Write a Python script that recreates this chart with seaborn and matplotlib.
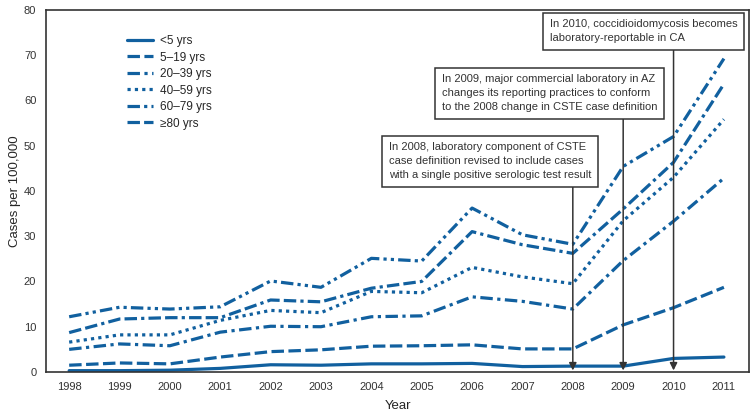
import pandas as pd
import matplotlib.pyplot as plt
import seaborn as sns

# Cases per 100,000 by age group, 1998-2011
years = list(range(1998, 2012))
age_groups = ["<5 yrs", "5–19 yrs", "20–39 yrs", "40–59 yrs", "60–79 yrs", "≥80 yrs"]

lt5 = [0.3, 0.3, 0.4, 0.8, 1.6, 1.5, 1.8, 1.8, 1.9, 1.2, 1.3, 1.3, 3.0, 3.3]
age5_19 = [1.5, 2.0, 1.8, 3.3, 4.5, 4.9, 5.7, 5.8, 6.0, 5.1, 5.1, 10.4, 14.2, 18.7]
age20_39 = [5.0, 6.2, 5.8, 8.8, 10.1, 10.0, 12.2, 12.4, 16.6, 15.6, 13.9, 24.6, 33.3, 42.8]
age40_59 = [6.6, 8.2, 8.2, 11.4, 13.6, 13.1, 17.8, 17.5, 23.1, 21.0, 19.5, 33.4, 43.0, 55.8]
age60_79 = [12.2, 14.3, 13.9, 14.4, 20.1, 18.7, 25.1, 24.5, 36.2, 30.3, 28.2, 45.4, 52.0, 69.2]
age80 = [8.7, 11.7, 12.0, 12.0, 15.9, 15.5, 18.5, 20.0, 31.0, 28.1, 26.2, 36.0, 46.3, 63.6]

series = [lt5, age5_19, age20_39, age40_59, age60_79, age80]

notes = [
    (2008, "In 2008, laboratory component of CSTE\ncase definition revised to include cases\nwith a single positive serologic test result"),
    (2009, "In 2009, major commercial laboratory in AZ\nchanges its reporting practices to conform\nto the 2008 change in CSTE case definition"),
    (2010, "In 2010, coccidioidomycosis becomes\nlaboratory-reportable in CA"),
]

rows = []
for grp, vals in zip(age_groups, series):
    for yr, v in zip(years, vals):
        rows.append({"Year": yr, "Age": grp, "Rate": v})
df = pd.DataFrame(rows)

sns.set_style("white")
plt.rcParams["font.family"] = ["Liberation Sans Narrow", "Liberation Sans", "DejaVu Sans"]

blue = "#11609f"
dark = "#333333"

# dash patterns in units of line width
dash_map = {
    "<5 yrs": "",
    "5–19 yrs": (3.9, 1.4),
    "20–39 yrs": (3.9, 1.4, 1.0, 1.4),
    "40–59 yrs": (1.0, 1.3),
    "60–79 yrs": (3.9, 1.3, 1.0, 1.3, 1.0, 1.3),
    "≥80 yrs": (3.9, 1.3, 3.9, 1.3, 1.0, 1.3),
}

fig = plt.figure(figsize=(7.54, 4.15), dpi=100)
ax = fig.add_axes([0.061, 0.1036, 0.9325, 0.873])

sns.lineplot(
    data=df, x="Year", y="Rate", hue="Age", style="Age",
    hue_order=age_groups, style_order=age_groups,
    palette=[blue] * 6, dashes=dash_map, linewidth=2.3, ax=ax, zorder=2,
)

ax.set_xlim(1997.54, 2011.5)
ax.set_ylim(0, 80)
ax.set_xticks(years)
ax.set_yticks(range(0, 81, 10))
ax.set_xlabel("Year", fontsize=9.5, labelpad=6)
ax.set_ylabel("Cases per 100,000", fontsize=9.5, family=["Liberation Sans", "DejaVu Sans"], labelpad=2)
ax.tick_params(axis="both", direction="out", length=4, width=1, color=dark,
               labelsize=8, labelcolor=dark, pad=3)
for s in ax.spines.values():
    s.set_color(dark)
    s.set_linewidth(1.2)

handles, labels = ax.get_legend_handles_labels()
ax.legend(handles, labels, loc="upper left", bbox_to_anchor=(0.115, 0.93),
          frameon=False, fontsize=8.5, handlelength=2.2, handletextpad=0.6,
          labelspacing=0.38, borderpad=0, borderaxespad=0)

# boxed notes, positioned by top-left corner of the text
text_pos = [(2004.35, 50.7), (2005.40, 65.7), (2007.55, 77.9)]
arrow_top = [42.0, 56.5, 72.0]
for (yr, txt), (tx, ty), at in zip(notes, text_pos, arrow_top):
    ax.annotate("", xy=(yr, 0.35), xytext=(yr, at),
                arrowprops=dict(arrowstyle="-|>", color=dark, lw=1.1,
                                mutation_scale=11, shrinkA=0, shrinkB=0),
                zorder=3)
    ax.text(tx, ty, txt, ha="left", va="top", fontsize=8.0, color=dark,
            linespacing=1.48, zorder=4,
            bbox=dict(boxstyle="square,pad=0.6", fc="white", ec=dark, lw=1.1))

fig.savefig("out.png", dpi=100)
